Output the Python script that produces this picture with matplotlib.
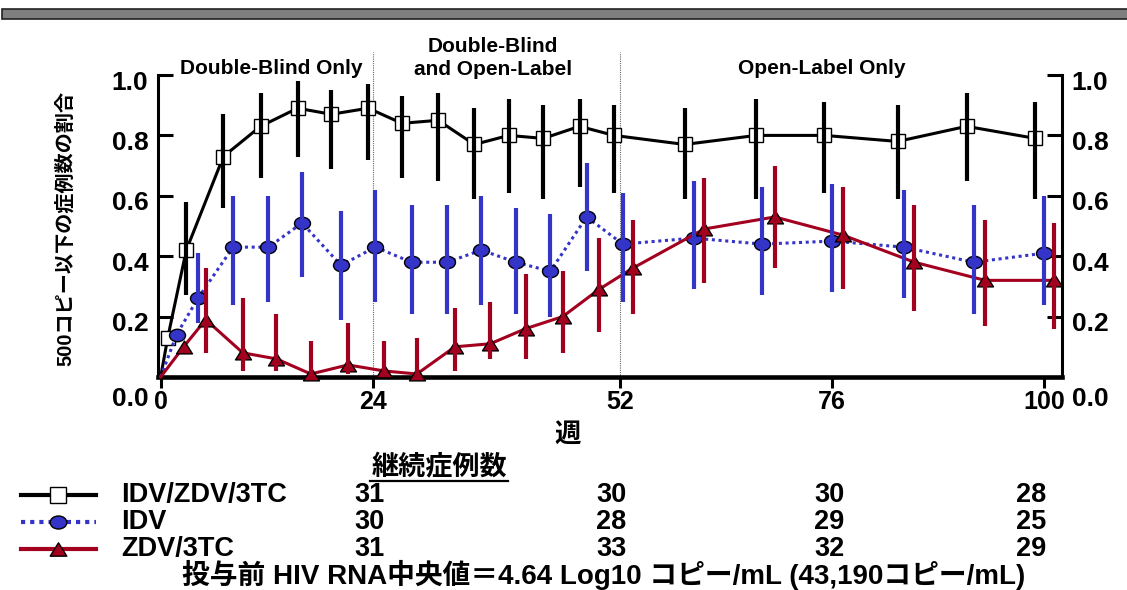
import numpy as np
import matplotlib.pyplot as plt
from matplotlib.path import Path
from matplotlib.lines import Line2D
from matplotlib.patches import Rectangle
import matplotlib.transforms as mtransforms

plt.rcParams['font.family'] = ['Liberation Sans', 'Noto Sans CJK JP', 'DejaVu Sans']
plt.rcParams['font.weight'] = 'bold'

W, H = 1127, 590
nan = np.nan

# IDV/ZDV/3TC
wk_triple = [0, 0.8, 2.9, 7.1, 11.3, 15.5, 19.3, 23.5, 27.3, 31.4, 35.5, 39.4, 43.3, 47.4, 51.3,
             59.3, 67.4, 75.1, 83.4, 91.2, 99.0]
v_triple = [0, 0.13, 0.42, 0.73, 0.83, 0.89, 0.87, 0.89, 0.84, 0.85, 0.77, 0.80, 0.79, 0.83, 0.80,
            0.77, 0.80, 0.80, 0.78, 0.83, 0.79]
lo_triple = [nan, nan, 0.27, 0.56, 0.66, 0.73, 0.69, 0.72, 0.66, 0.65, 0.59, 0.61, 0.59, 0.63, 0.61,
             0.59, 0.59, 0.61, 0.59, 0.65, 0.59]
hi_triple = [nan, nan, 0.58, 0.87, 0.94, 0.98, 0.95, 0.97, 0.93, 0.94, 0.89, 0.92, 0.90, 0.92, 0.90,
             0.89, 0.92, 0.91, 0.90, 0.94, 0.91]

# IDV
wk_idv = [0, 1.8, 4.2, 8.2, 12.2, 16.0, 20.4, 24.3, 28.4, 32.4, 36.3, 40.2, 44.1, 48.2, 52.3,
          60.3, 68.1, 76.0, 84.1, 92.0, 100.0]
v_idv = [0, 0.14, 0.26, 0.43, 0.43, 0.51, 0.37, 0.43, 0.38, 0.38, 0.42, 0.38, 0.35, 0.53, 0.44,
         0.46, 0.44, 0.45, 0.43, 0.38, 0.41]
lo_idv = [nan, nan, 0.18, 0.24, 0.25, 0.33, 0.19, 0.25, 0.21, 0.21, 0.24, 0.21, 0.20, 0.35, 0.25,
          0.29, 0.27, 0.28, 0.26, 0.21, 0.24]
hi_idv = [nan, nan, 0.41, 0.60, 0.60, 0.68, 0.55, 0.62, 0.57, 0.57, 0.60, 0.56, 0.54, 0.71, 0.61,
          0.65, 0.63, 0.64, 0.62, 0.57, 0.60]

# ZDV/3TC
wk_zdv = [0, 2.6, 5.1, 9.3, 13.1, 17.0, 21.2, 25.3, 29.0, 33.3, 37.3, 41.3, 45.5, 49.6, 53.4,
          61.5, 69.5, 77.2, 85.3, 93.3, 101.1]
v_zdv = [0, 0.10, 0.19, 0.08, 0.06, 0.01, 0.04, 0.02, 0.01, 0.10, 0.11, 0.16, 0.20, 0.29, 0.36,
         0.49, 0.53, 0.47, 0.38, 0.32, 0.32]
lo_zdv = [nan, nan, 0.08, 0.02, 0.02, 0.0, 0.01, 0.0, 0.0, 0.02, 0.06, 0.06, 0.08, 0.15, 0.21,
          0.31, 0.36, 0.29, 0.22, 0.17, 0.16]
hi_zdv = [nan, nan, 0.36, 0.26, 0.21, 0.12, 0.18, 0.12, 0.13, 0.23, 0.25, 0.34, 0.35, 0.46, 0.52,
          0.66, 0.70, 0.63, 0.57, 0.52, 0.51]

# 継続症例数 (week 24, 52, 76, 100)
n_triple = [31, 30, 30, 28]
n_idv = [30, 28, 29, 25]
n_zdv = [31, 33, 32, 29]

phase_bounds = [24, 52]
x_ticks = [0, 24, 52, 76, 100]
y_ticks = [0.0, 0.2, 0.4, 0.6, 0.8, 1.0]

BLUE = '#3434c8'
RED = '#a3001f'

_c = Path.unit_circle()
ellipse = Path(_c.vertices * [1, 0.78], _c.codes)
tri = Path([(0, 0.8), (-1, -0.8), (1, -0.8), (0, 0.8)],
           [Path.MOVETO, Path.LINETO, Path.LINETO, Path.CLOSEPOLY])

series = [
    ('IDV/ZDV/3TC', wk_triple, v_triple, lo_triple, hi_triple, n_triple,
     dict(color='black', ls='-', marker='s', ms=10.5, mfc='white')),
    ('IDV', wk_idv, v_idv, lo_idv, hi_idv, n_idv,
     dict(color=BLUE, ls=(0, (1, 1.2)), marker=ellipse, ms=11.5, mfc=BLUE)),
    ('ZDV/3TC', wk_zdv, v_zdv, lo_zdv, hi_zdv, n_zdv,
     dict(color=RED, ls='-', marker=tri, ms=11.5, mfc=RED)),
]


def fx(x):
    return x / W


def fy(y):
    return 1 - y / H


fig = plt.figure(figsize=(W / 100, H / 100), dpi=100)
ax = fig.add_axes([fx(158), fy(377), (1062 - 158) / W, (377 - 75) / H])

for name, wk, v, lo, hi, n, st in series:
    ax.plot(wk, v, color=st['color'], ls=st['ls'], lw=2.2, marker=st['marker'],
            ms=st['ms'], mfc=st['mfc'], mec='black', mew=1.0,
            markevery=slice(1, None), clip_on=False, zorder=3)
    wk_a, lo_a, hi_a = np.array(wk), np.array(lo), np.array(hi)
    ok = ~np.isnan(lo_a)
    ax.vlines(wk_a[ok], lo_a[ok], hi_a[ok], colors=st['color'], lw=3, zorder=4)

for b in phase_bounds:
    ax.plot([b, b], [0, 1.075], color='#666666', lw=0.8, ls=(0, (1, 1)),
            clip_on=False, zorder=1)

ax.set_xlim(-0.3, 102)
ax.set_ylim(0, 1)
ax.set_xticks(x_ticks)
ax.set_yticks(y_ticks)
ax.set_yticklabels(['%.1f' % t for t in y_ticks])

ax.spines['top'].set_visible(False)
ax.spines['left'].set_linewidth(2.2)
ax.spines['right'].set_linewidth(2.2)
ax.spines['bottom'].set_linewidth(3.3)

ax.tick_params(axis='y', direction='in', length=11, width=2.2, labelsize=19, pad=7,
               left=True, right=True, labelleft=True, labelright=True)
ax.tick_params(axis='x', direction='out', length=8, width=2.2, labelsize=18, pad=1.5)

# labels sit a little below their ticks in the original
for t in ax.yaxis.get_major_ticks():
    dy = -19 if t.get_loc() == 0 else -5
    off = mtransforms.ScaledTranslation(0, dy / 100, fig.dpi_scale_trans)
    t.label1.set_transform(t.label1.get_transform() + off)
    t.label2.set_transform(t.label2.get_transform() + off)

# phase titles
fig.text(fx(271), fy(68), 'Double-Blind Only', ha='center', va='center', fontsize=15)
fig.text(fx(493), fy(58), 'Double-Blind\nand Open-Label', ha='center', va='center',
         fontsize=15, linespacing=1.25)
fig.text(fx(822), fy(68), 'Open-Label Only', ha='center', va='center', fontsize=15)

fig.text(fx(65), fy(228), '500コピー以下の症例数の割合', rotation=90, ha='center',
         va='center', fontsize=14.5)
fig.text(fx(568), fy(435), '週', ha='center', va='center', fontsize=19)

# top grey bar
fig.add_artist(Rectangle((fx(2), fy(18.5)), 1.0, 9.5 / H, transform=fig.transFigure,
                         facecolor='#7f7f7f', edgecolor='#222222', lw=1.2))

# table of patients remaining
fig.text(fx(439), fy(467), '継続症例数', ha='center', va='center', fontsize=19.5)
fig.add_artist(Line2D([fx(370), fx(508)], [fy(481), fy(481)], color='black', lw=1.6))

row_y = [495, 522, 549]
col_x = [369, 611, 829, 1031]
for (name, wk, v, lo, hi, n, st), y in zip(series, row_y):
    fig.add_artist(Line2D([fx(21), fx(96)], [fy(y), fy(y)], color=st['color'],
                          ls=st['ls'], lw=3))
    fig.add_artist(Line2D([fx(58)], [fy(y)], marker=st['marker'], ms=st['ms'] + 0.5,
                          mfc=st['mfc'], mec='black', mew=1.0, ls='none'))
    fig.text(fx(121), fy(y), name, ha='left', va='center', fontsize=19.5)
    for x, c in zip(col_x, n):
        fig.text(fx(x), fy(y), str(c), ha='center', va='center', fontsize=19.5)

fig.text(fx(604), fy(575), '投与前 HIV RNA中央値＝4.64 Log10 コピー/mL (43,190コピー/mL)',
         ha='center', va='center', fontsize=20)

fig.savefig('out.png', dpi=100)
